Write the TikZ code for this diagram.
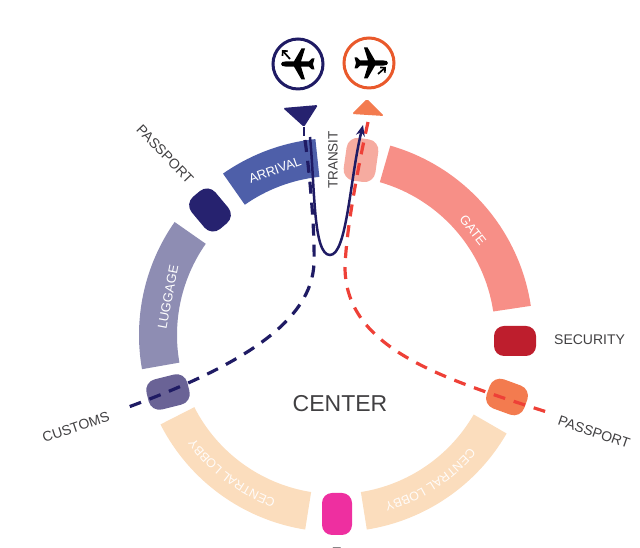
\documentclass[tikz,border=0pt]{standalone}
\usepackage{fontspec}
\setmainfont{Liberation Sans}
\usetikzlibrary{arrows.meta,decorations.text}
\definecolor{arrivalc}{HTML}{4E5FA9}
\definecolor{luggagec}{HTML}{8E8DB3}
\definecolor{lobbyc}{HTML}{FBDDBD}
\definecolor{gatec}{HTML}{F78F87}
\definecolor{transitc}{HTML}{F6ABA0}
\definecolor{passdark}{HTML}{26226F}
\definecolor{customsc}{HTML}{6A6396}
\definecolor{pinkc}{HTML}{EE2FA0}
\definecolor{securityc}{HTML}{BE1E2D}
\definecolor{passor}{HTML}{F37B4F}
\definecolor{ringor}{HTML}{E9592B}
\definecolor{darkline}{HTML}{1F1B64}
\definecolor{redline}{HTML}{EE4037}
\definecolor{labelc}{HTML}{414042}
\newcommand{\seg}[3]{\fill[#1] (336,213) ++(#2:197) arc[start angle=#2,end angle=#3,radius=197] -- ++(#3:-38) arc[start angle=#3,end angle=#2,radius=159] -- cycle;}
\newcommand{\plane}[3]{%
\begin{scope}[shift={(#1,#2)},rotate=#3]
\fill[black] (17,0) .. controls (17,1.8) and (15,2.6) .. (12,2.6) -- (4,2.6) -- (-3.5,15.5) -- (-7,15.5) -- (-3,2.6) -- (-11,2.6) -- (-14,5.5) -- (-16.5,5.5) -- (-15,0) -- (-16.5,-5.5) -- (-14,-5.5) -- (-11,-2.6) -- (-3,-2.6) -- (-7,-15.5) -- (-3.5,-15.5) -- (4,-2.6) -- (12,-2.6) .. controls (15,-2.6) and (17,-1.8) .. (17,0) -- cycle;
\end{scope}}
\newcommand{\lobbytext}[2]{\path[postaction={decorate},decoration={text along path,text align=center,text={|\fontsize{12.5}{12.5}\selectfont\color{white!92!lobbyc}|CENTRAL LOBBY}}] (336,213) ++(#1:175) arc[start angle=#1,end angle=#2,radius=175];}
\tikzset{
 lbl/.style={text=labelc,font=\fontsize{14}{14}\selectfont,inner sep=0pt},
 bandlbl/.style={text=white,font=\fontsize{13}{13}\selectfont,inner sep=0pt},
 ring/.style={draw,line width=3,circle,inner sep=0pt,minimum size=50,fill=white},
 dashdark/.style={draw=darkline,line width=3.2,dash pattern=on 12 off 9},
 dashred/.style={draw=redline,line width=3.2,dash pattern=on 12 off 9},
 tinyarrow/.style={black,line width=1.7,-{Straight Barb[length=3.5pt,width=7pt]}},
}
\begin{document}
\begin{tikzpicture}[x=1pt,y=1pt]
\useasboundingbox (0,0) rectangle (640,548);
\clip (0,0) rectangle (640,548);
\seg{arrivalc}{96}{125}
\seg{luggagec}{145}{190}
\seg{lobbyc}{207}{261}
\seg{lobbyc}{279}{330}
\seg{gatec}{8.5}{74}
% stops
\node[fill=transitc,rounded corners=11,minimum width=32,minimum height=43,rotate=-8] (transit) at (361,388) {};
\node[fill=passdark,rounded corners=11,minimum width=31,minimum height=42,rotate=40] (passa) at (210,338) {};
\node[fill=customsc,rounded corners=11,minimum width=42,minimum height=31,rotate=14] (customs) at (168,156) {};
\node[fill=pinkc,rounded corners=10,minimum width=30,minimum height=42] (pink) at (337,34) {};
\node[fill=securityc,rounded corners=10,minimum width=42,minimum height=30] (security) at (515,207) {};
\node[fill=passor,rounded corners=11,minimum width=40,minimum height=31,rotate=-20] (passb) at (507,151) {};
% rings
\node[ring,draw=darkline] (ringa) at (298,484) {};
\node[ring,draw=ringor] (ringb) at (369,485) {};
\plane{298}{484}{180}
\plane{371}{485}{0}
\draw[tinyarrow] (290,489) -- (282,498);
\draw[tinyarrow] (378,474) -- (386,481);
% funnels
\coordinate (fa) at (283,440);
\coordinate (fb) at (318,443);
\coordinate (ftip) at (304,421);
\fill[passdark,rounded corners=1.5] (fa) -- (fb) -- (ftip) -- cycle;
\draw[darkline,line width=2.5] (ftip) -- (304,412);
\coordinate (ta) at (352,434);
\coordinate (tb) at (384,432);
\coordinate (tc) at (367,449);
\fill[passor,rounded corners=1.5] (ta) -- (tb) -- (tc) -- cycle;
% routes
\coordinate (ds) at (305,408);
\coordinate (de) at (123,139);
\coordinate (rs) at (368,426);
\coordinate (re) at (550,135);
\draw[dashdark] (ds) .. controls (309,380) and (315,320) .. (314,285) .. controls (312,228) and (245,183) .. (de);
\draw[dashred] (rs) .. controls (360,390) and (346,320) .. (345,280) .. controls (346,200) and (440,170) .. (re);
\draw[darkline,line width=2.5,-{Stealth[length=11pt,width=9pt]}] (310,411) .. controls (315,360) and (313,293) .. (330,293) .. controls (347,293) and (350,370) .. (363,423);
% labels
\node[text=labelc,inner sep=0pt,font=\fontsize{23}{23}\selectfont] (center) at (340,144) {CENTER};
\node[lbl,font=\fontsize{13.5}{13.5}\selectfont,rotate=90] (ltransit) at (333,388) {TRANSIT};
\node[lbl,rotate=-46] (lpassa) at (165,394) {PASSPORT};
\node[lbl,rotate=18.5] (lcustoms) at (76,121) {CUSTOMS};
\node[lbl,anchor=west] (lsec) at (554,208) {SECURITY};
\node[lbl,rotate=-19] (lpassb) at (594,116) {PASSPORT};
\node[bandlbl,rotate=20] (larr) at (275,378) {ARRIVAL};
\node[bandlbl,rotate=79] (llug) at (168,251) {LUGGAGE};
\node[bandlbl,rotate=-52] (lgate) at (473,318) {GATE};
\lobbytext{320}{286}
\lobbytext{250}{216}
\node[lbl] (lbot) at (337,-5) {T};
\end{tikzpicture}
\end{document}
